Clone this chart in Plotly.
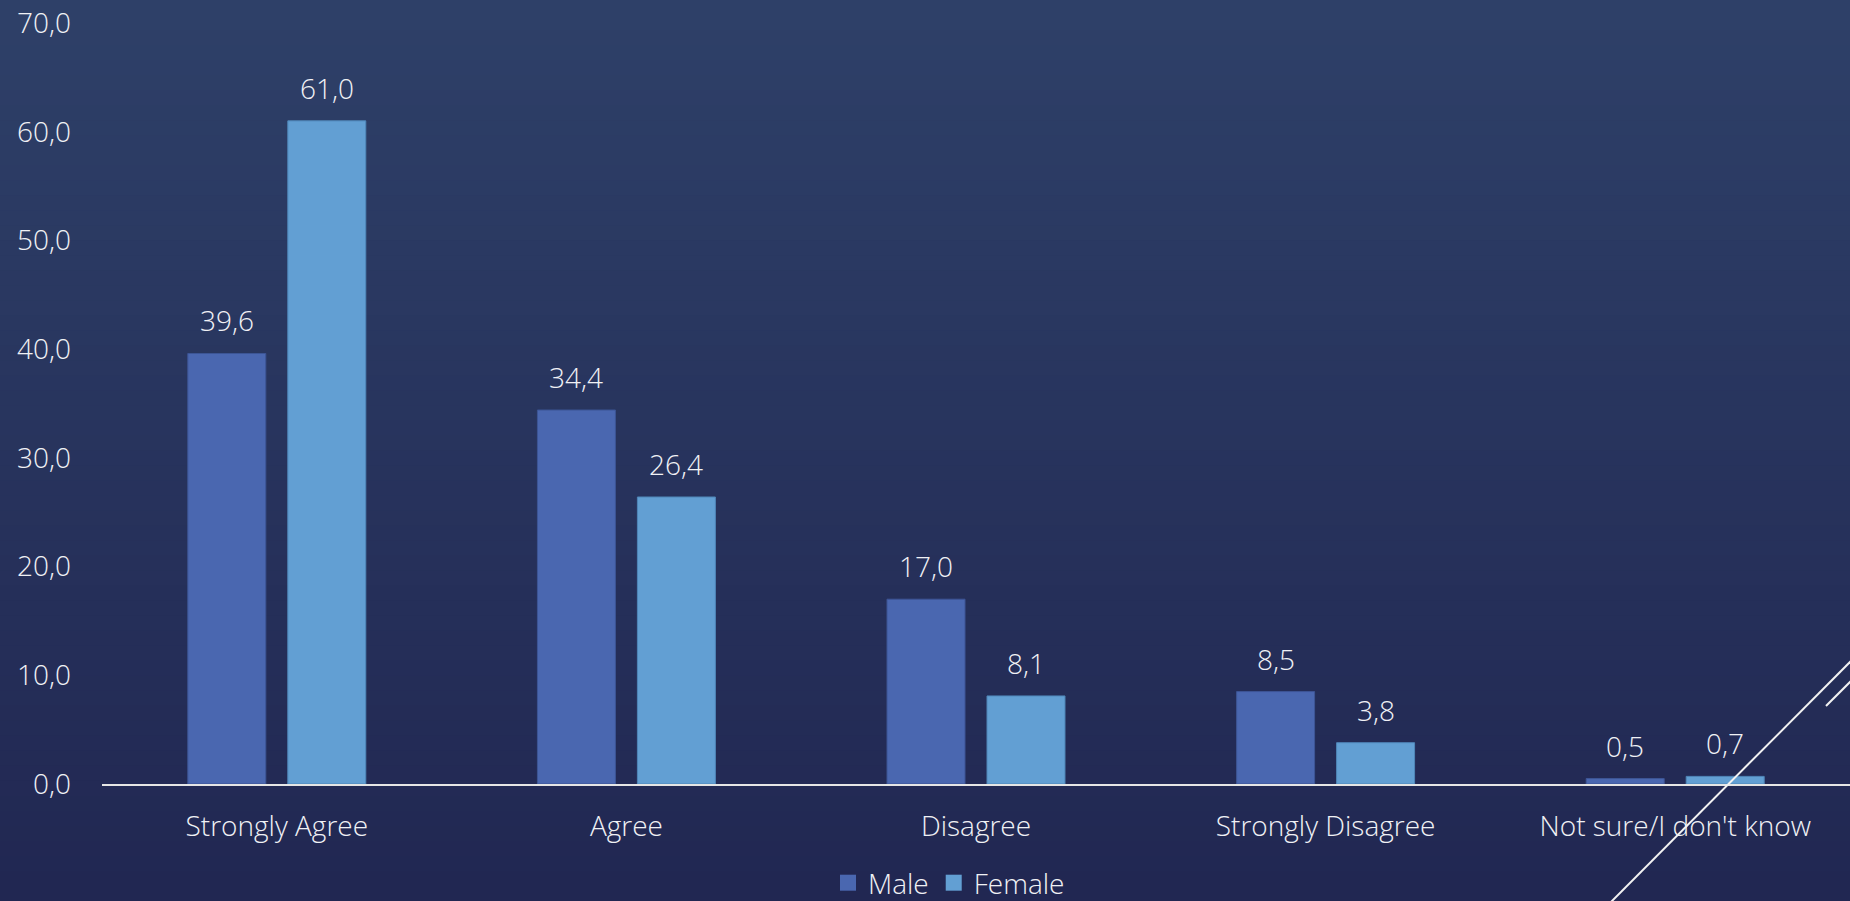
import plotly.graph_objects as go

categories = ["Strongly Agree", "Agree", "Disagree", "Strongly Disagree", "Not sure/I don't know"]
male = [39.6, 34.4, 17.0, 8.5, 0.5]
female = [61.0, 26.4, 8.1, 3.8, 0.7]
y_ticks = [0, 10, 20, 30, 40, 50, 60, 70]

W, H = 1850, 901
L, R, T, B = 102, 0, 23, 117
pw, ph = W - L - R, H - T - B

def px_x(x):
    return (x - L) / pw

def px_y(y):
    return (H - B - y) / ph

FONT = "Open Sans"
TXT = "#f0f1f5"
MALE_C = "#4a67b0"
FEMALE_C = "#629fd3"
FS = 28
FW = 300

def fnt(size=FS):
    return dict(size=size, color=TXT, family=FONT, weight=FW)

fig = go.Figure()
fig.add_bar(name="Male", x=categories, y=male, showlegend=False,
            marker=dict(color=MALE_C, line=dict(color="#3d5595", width=1)))
fig.add_bar(name="Female", x=categories, y=female, showlegend=False,
            marker=dict(color=FEMALE_C, line=dict(color="#4f86b8", width=1)))
# legend entries
fig.add_scatter(name="Male", x=[None], y=[None], mode="markers",
                marker=dict(symbol="square", size=17, color=MALE_C))
fig.add_scatter(name="Female", x=[None], y=[None], mode="markers",
                marker=dict(symbol="square", size=17, color=FEMALE_C))

# data labels
annotations = []
for series, shift in ((male, -50), (female, 50)):
    for c, v in zip(categories, series):
        annotations.append(dict(x=c, y=v, xref="x", yref="y", text=f"{v:.1f}".replace(".", ","),
                                showarrow=False, xshift=shift, yshift=12, yanchor="bottom",
                                font=fnt()))

# gradient background bands
shapes = []
top = (46, 64, 104)
bot = (33, 39, 82)
n = 60
for i in range(n):
    f = i / (n - 1)
    c = tuple(round(top[k] + (bot[k] - top[k]) * f) for k in range(3))
    y0 = i * H / n
    y1 = (i + 1) * H / n + 1
    shapes.append(dict(type="rect", xref="paper", yref="paper", layer="below",
                       x0=px_x(0), x1=px_x(W), y0=px_y(y1), y1=px_y(y0),
                       fillcolor="rgb(%d,%d,%d)" % c, line=dict(width=0)))
# decorative lines
shapes.append(dict(type="line", xref="paper", yref="paper", x0=px_x(1611), y0=px_y(902), x1=px_x(1852), y1=px_y(660),
                   line=dict(color="#f2f2f2", width=2)))
shapes.append(dict(type="line", xref="paper", yref="paper", x0=px_x(1826), y0=px_y(706), x1=px_x(1852), y1=px_y(680),
                   line=dict(color="#f2f2f2", width=2)))

fig.update_layout(
    width=W, height=H,
    margin=dict(l=L, r=R, t=T, b=B, pad=0, autoexpand=False),
    paper_bgcolor="rgb(33,39,82)", plot_bgcolor="rgba(0,0,0,0)",
    separators=",.",
    barmode="group", bargap=0.428, bargroupgap=0.22,
    font=fnt(),
    shapes=shapes,
    annotations=annotations,
    showlegend=True,
    legend=dict(orientation="h", x=px_x(949), xanchor="center", y=px_y(908), yanchor="bottom",
                font=fnt(), bgcolor="rgba(0,0,0,0)",
                itemwidth=30, tracegroupgap=0),
    xaxis=dict(showline=True, linecolor="#e6e6e6", linewidth=2, showgrid=False, ticks="",
               tickfont=fnt(), ticklabelstandoff=16, fixedrange=True, automargin=False),
    yaxis=dict(range=[0, 70], tickvals=y_ticks, tickformat=".1f", showgrid=False, zeroline=False,
               showline=False, ticks="", tickfont=fnt(),
               ticklabelstandoff=30, fixedrange=True, automargin=False),
)

fig.write_html("out.html", config={"displayModeBar": False},
               post_script="document.body.style.margin='0';document.body.style.overflow='hidden';")
